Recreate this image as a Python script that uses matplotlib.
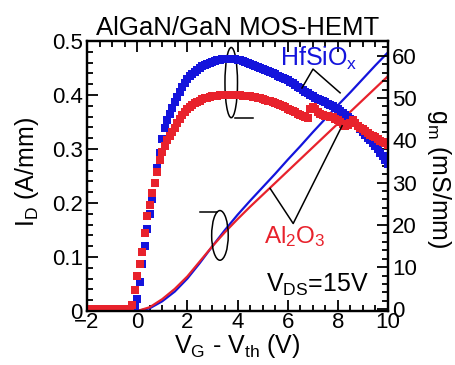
import matplotlib
matplotlib.use("Agg")
import matplotlib.pyplot as plt
from matplotlib.patches import Ellipse
from matplotlib.ticker import MultipleLocator

plt.rcParams['font.family'] = ['Liberation Sans', 'DejaVu Sans']
plt.rcParams['mathtext.default'] = 'regular'

# gate sweep for the transconductance data (V)
vg = [-2.0, -1.9, -1.8, -1.7, -1.6, -1.5, -1.4, -1.3, -1.2, -1.1,
      -1.0, -0.9, -0.8, -0.7, -0.6, -0.5, -0.4, -0.3, -0.2, -0.1,
      0.0, 0.1, 0.2, 0.3, 0.4, 0.5, 0.6, 0.7, 0.8, 0.9,
      1.0, 1.1, 1.2, 1.3, 1.4, 1.5, 1.6, 1.7, 1.8, 1.9,
      2.0, 2.1, 2.2, 2.3, 2.4, 2.5, 2.6, 2.7, 2.8, 2.9,
      3.0, 3.1, 3.2, 3.3, 3.4, 3.5, 3.6, 3.7, 3.8, 3.9,
      4.0, 4.1, 4.2, 4.3, 4.4, 4.5, 4.6, 4.7, 4.8, 4.9,
      5.0, 5.1, 5.2, 5.3, 5.4, 5.5, 5.6, 5.7, 5.8, 5.9,
      6.0, 6.1, 6.2, 6.3, 6.4, 6.5, 6.6, 6.7, 6.8, 6.9,
      7.0, 7.1, 7.2, 7.3, 7.4, 7.5, 7.6, 7.7, 7.8, 7.9,
      8.0, 8.1, 8.2, 8.3, 8.4, 8.5, 8.6, 8.7, 8.8, 8.9,
      9.0, 9.1, 9.2, 9.3, 9.4, 9.5, 9.6, 9.7, 9.8, 9.9,
      10.0]

# gm (mS/mm)
gm_hfsio = [0, 0, 0, 0, 0, 0, 0, 0, 0, 0,
            0, 0, 0, 0, 0, 0, 0, 0, 0, 0.5,
            2.5, 6.5, 10.8, 15.0, 19.0, 22.5, 26.0, 30.0, 33.5, 37.0,
            40.3, 42.8, 44.8, 46.3, 47.7, 49.0, 50.3, 51.5, 52.6, 53.6,
            54.4, 55.1, 55.7, 56.2, 56.7, 57.1, 57.5, 57.8, 58.1, 58.4,
            58.6, 58.8, 59.0, 59.1, 59.2, 59.3, 59.3, 59.3, 59.3, 59.2,
            59.1, 59.0, 58.8, 58.6, 58.4, 58.1, 57.9, 57.6, 57.4, 57.1,
            56.9, 56.6, 56.4, 56.1, 55.9, 55.6, 55.3, 55.0, 54.7, 54.4,
            54.2, 53.9, 53.5, 53.1, 52.7, 52.3, 51.9, 51.5, 51.1, 50.7,
            50.4, 50.0, 49.7, 49.5, 49.3, 49.0, 48.7, 48.4, 48.1, 47.7,
            47.3, 46.9, 46.5, 46.0, 45.5, 45.0, 44.5, 44.0, 43.3, 42.6,
            42.0, 41.3, 40.6, 40.0, 39.4, 38.7, 37.9, 37.1, 36.2, 35.3,
            34.3]

gm_al2o3 = [0, 0, 0, 0, 0, 0, 0, 0, 0, 0,
            0, 0, 0, 0, 0, 0, 0, 0, 1.0, 4.5,
            8.0, 10.8, 13.5, 18.0, 22.0, 24.7, 27.5, 30.0, 32.6, 35.3,
            37.3, 38.7, 40.0, 41.0, 42.0, 43.0, 44.0, 45.0, 46.0, 46.8,
            47.4, 47.9, 48.4, 48.8, 49.1, 49.4, 49.7, 49.9, 50.1, 50.3,
            50.4, 50.5, 50.6, 50.7, 50.7, 50.8, 50.8, 50.8, 50.8, 50.7,
            50.7, 50.7, 50.6, 50.6, 50.5, 50.4, 50.3, 50.2, 50.1, 50.0,
            49.8, 49.6, 49.4, 49.2, 49.0, 48.8, 48.6, 48.4, 48.1, 47.8,
            47.5, 47.2, 46.9, 46.6, 46.3, 46.0, 45.7, 45.4, 45.2, 47.5,
            47.8, 47.3, 46.8, 46.3, 46.0, 45.8, 45.7, 45.6, 45.4, 45.1,
            44.7, 44.3, 43.9, 43.5, 43.6, 44.2, 44.7, 44.2, 43.5, 43.0,
            42.6, 42.3, 41.8, 41.3, 41.0, 40.7, 40.3, 39.9, 39.6, 39.3,
            39.0]

# drain current (A/mm)
vg_id = [-2.0, 0.0, 0.5, 1.0, 1.5, 2.0, 2.5, 3.0, 3.5, 4.0, 4.5,
         5.0, 5.5, 6.0, 6.5, 7.0, 7.5, 8.0, 8.5, 9.0, 9.5, 10.0]
id_hfsio = [0, 0, 0.005, 0.018, 0.036, 0.060, 0.089, 0.120, 0.150, 0.178, 0.204,
            0.229, 0.254, 0.280, 0.305, 0.331, 0.356, 0.381, 0.405, 0.430, 0.455, 0.479]
id_al2o3 = [0, 0, 0.007, 0.022, 0.041, 0.064, 0.092, 0.120, 0.146, 0.170, 0.193,
            0.215, 0.237, 0.259, 0.281, 0.303, 0.325, 0.347, 0.369, 0.391, 0.413, 0.435]

blue = '#1414dc'
red = '#e8222c'

fig = plt.figure(figsize=(4.55, 3.65), dpi=100)
ax = fig.add_axes([87 / 455, 1 - 311 / 365, 301 / 455, 270 / 365])
ax2 = ax.twinx()

ax.plot(vg_id, id_hfsio, color=blue, lw=1.6)
ax.plot(vg_id, id_al2o3, color=red, lw=1.6)

ax2.plot(vg, gm_hfsio, 's', color=blue, ms=5.2, mew=0)
ax2.plot(vg, gm_al2o3, 's', color=red, ms=5.2, mew=0)

ax.set_xlim(-2, 10)
ax.set_ylim(0, 0.5)
ax2.set_ylim(-0.4, 63.5)

ax.xaxis.set_major_locator(MultipleLocator(2))
ax.xaxis.set_minor_locator(MultipleLocator(0.5))
ax.yaxis.set_major_locator(MultipleLocator(0.1))
ax.yaxis.set_minor_locator(MultipleLocator(0.02))
ax2.yaxis.set_major_locator(MultipleLocator(10))
ax2.yaxis.set_minor_locator(MultipleLocator(2))
ax.set_yticks([0, 0.1, 0.2, 0.3, 0.4, 0.5], ['0', '0.1', '0.2', '0.3', '0.4', '0.5'])

ax.tick_params(which='both', direction='in', top=True, right=False, width=1.3,
               labelsize=16)
ax.tick_params(axis='y', pad=3)
ax.tick_params(axis='x', pad=1)
ax.tick_params(which='major', length=8)
ax.tick_params(which='minor', length=4)
ax2.tick_params(which='both', direction='in', width=1.3, labelsize=16, pad=3)
ax2.tick_params(which='major', length=8)
ax2.tick_params(which='minor', length=4)
for a in (ax, ax2):
    for s in a.spines.values():
        s.set_linewidth(1.6)

ax.set_xlabel('V$_G$ - V$_{th}$ (V)', fontsize=18, labelpad=-1)
ax.set_ylabel('I$_D$ (A/mm)', fontsize=18, va='center')
ax.yaxis.set_label_coords(-0.2, 0.515)
ax2.set_ylabel('g$_m$ (mS/mm)', fontsize=18, rotation=270, va='center')
ax2.yaxis.set_label_coords(1.17, 0.49)
ax.set_title('AlGaN/GaN MOS-HEMT', fontsize=18.5, pad=4)

# annotations, placed in I_D coordinates but drawn above the squares
tr = ax.transData
ax2.add_patch(Ellipse((3.75, 0.423), 0.5, 0.13, fill=False, lw=1.1,
                      color='black', transform=tr))
ax2.plot([3.9, 4.6], [0.358, 0.358], color='black', lw=1.1, transform=tr)
ax2.add_patch(Ellipse((3.3, 0.140), 0.66, 0.092, fill=False, lw=1.1,
                      color='black', transform=tr))
ax2.plot([2.5, 3.2], [0.183, 0.183], color='black', lw=1.1, transform=tr)
ax2.plot([6.57, 7.01, 8.09], [0.413, 0.448, 0.404], color='black', lw=1.1, transform=tr)
ax2.plot([5.30, 6.22, 8.17], [0.227, 0.162, 0.343], color='black', lw=1.1, transform=tr)

ax2.text(7.25, 0.468, 'HfSiO$_x$', color=blue, fontsize=18, ha='center',
         va='center', transform=tr)
ax2.text(6.3, 0.138, 'Al$_2$O$_3$', color=red, fontsize=17.5, ha='center',
         va='center', transform=tr)
ax2.text(7.2, 0.036, 'V$_{DS}$=15V', color='black', fontsize=18, ha='center',
         va='baseline', transform=tr)

fig.savefig('out.png', dpi=100)
